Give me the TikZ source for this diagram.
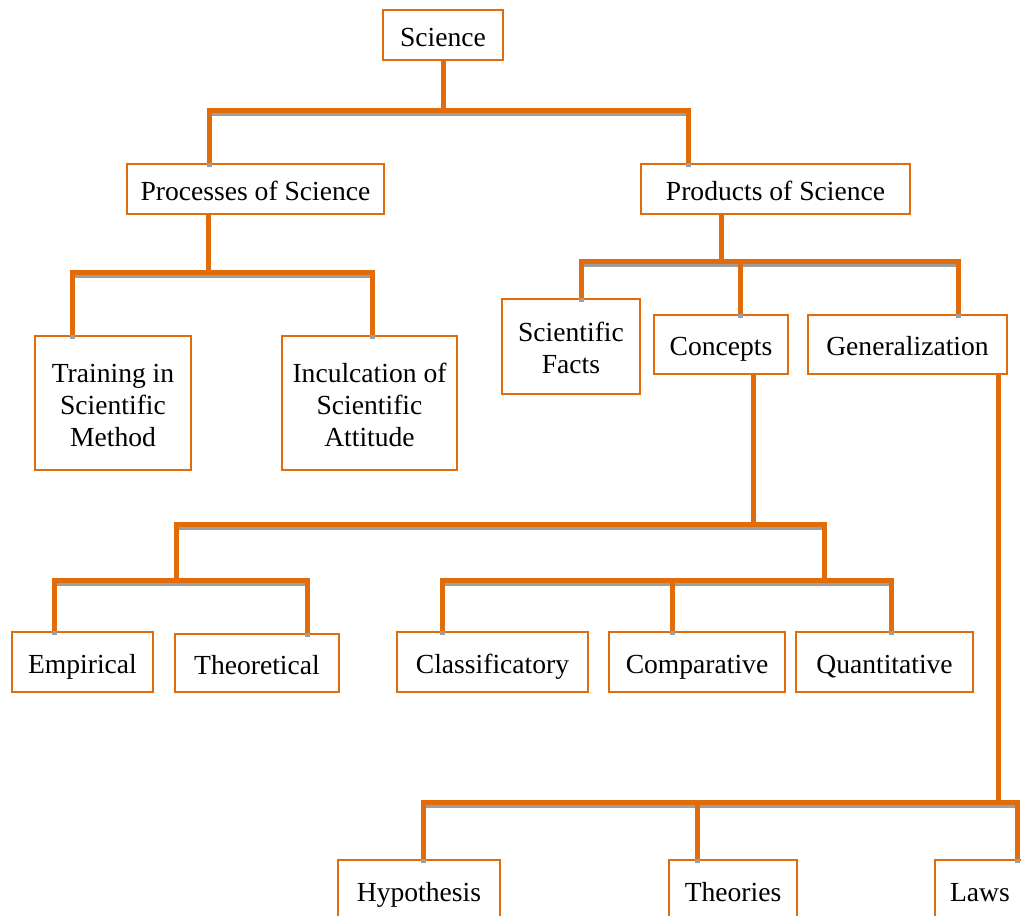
\documentclass[tikz,border=0pt]{standalone}
\usepackage{fontspec}
\setmainfont{Liberation Serif}
\definecolor{boxorange}{RGB}{227,108,10}
\definecolor{shadowgray}{RGB}{158,158,158}
\tikzset{
  box/.style={draw=boxorange, line width=0.04cm, fill=white, inner sep=0pt,
    font=\fontsize{15.7}{18.1}\selectfont},
  link/.style={draw=boxorange, line width=0.1cm},
  shade/.style={draw=shadowgray, line width=0.1cm}
}
\newcommand{\lift}[1]{\raisebox{-0.1cm}[\height][\depth]{\begin{tabular}{@{}c@{}}#1\end{tabular}}}
\newcommand{\stem}[2]{%
  \draw[shade] ([yshift=-0.07cm]#1) -- ([yshift=-0.07cm]#2);
  \draw[link] (#1) -- (#2);}
\newcommand{\bus}[4]{%
  \draw[shade] ([yshift=-0.07cm]#1) -- ([yshift=-0.07cm]#2) -- ([yshift=-0.07cm]#3) -- ([yshift=-0.07cm]#4);
  \draw[link] (#1) -- (#2) -- (#3) -- (#4);}
\begin{document}
\begin{tikzpicture}[x=0.02cm, y=-0.02cm]
  \useasboundingbox (0,0) rectangle (1021,916);
  \clip (0,0) rectangle (1021,916);
  \node[box, minimum width=2.4cm, minimum height=1cm] (sci) at (443,35) {\lift{Science}};
  \node[box, minimum width=5.14cm, minimum height=1cm] (proc) at (255.5,189) {\lift{Processes of Science}};
  \node[box, minimum width=5.38cm, minimum height=1cm] (prod) at (775.5,189) {\lift{Products of Science}};
  \node[box, minimum width=3.12cm, minimum height=2.68cm] (train) at (113,403) {\lift{Training in\\Scientific\\Method}};
  \node[box, minimum width=3.5cm, minimum height=2.68cm] (incul) at (369.5,403) {\lift{Inculcation of\\Scientific\\Attitude}};
  \node[box, minimum width=2.76cm, minimum height=1.9cm] (facts) at (571,346.5) {\lift{Scientific\\Facts}};
  \node[box, minimum width=2.68cm, minimum height=1.18cm] (conc) at (721,344.5) {\lift{Concepts}};
  \node[box, minimum width=3.98cm, minimum height=1.18cm] (gen) at (907.5,344.5) {\lift{Generalization}};
  \node[box, minimum width=2.82cm, minimum height=1.2cm] (emp) at (82.5,662) {\lift{Empirical}};
  \node[box, minimum width=3.28cm, minimum height=1.16cm] (theo) at (257,663) {\lift{Theoretical}};
  \node[box, minimum width=3.82cm, minimum height=1.2cm] (class) at (492.5,662) {\lift{Classificatory}};
  \node[box, minimum width=3.52cm, minimum height=1.2cm] (comp) at (697,662) {\lift{Comparative}};
  \node[box, minimum width=3.54cm, minimum height=1.2cm] (quant) at (884.5,662) {\lift{Quantitative}};
  \node[box, minimum width=3.24cm, minimum height=1.2cm] (hyp) at (419,890) {\lift{Hypothesis}};
  \node[box, minimum width=2.56cm, minimum height=1.2cm] (theor) at (733,890) {\lift{Theories}};
  \node[box, minimum width=1.8cm, minimum height=1.2cm] (laws) at (980,890) {\lift{Laws}};

  \coordinate (b1l) at (209,110);
  \coordinate (b1r) at (688,110);
  \coordinate (b2) at (208,272);
  \coordinate (b2l) at (72,272);
  \coordinate (b2r) at (372,272);
  \coordinate (b3) at (721,261);
  \coordinate (b3l) at (581,261);
  \coordinate (b3m) at (740,261);
  \coordinate (b3r) at (958,261);
  \coordinate (b4) at (753,524);
  \coordinate (b4l) at (176,524);
  \coordinate (b4r) at (824,524);
  \coordinate (b5l) at (54,580);
  \coordinate (b5r) at (307,580);
  \coordinate (b6l) at (442,580);
  \coordinate (b6m) at (672,580);
  \coordinate (b6r) at (891,580);
  \coordinate (b7) at (998,802);
  \coordinate (b7l) at (423,802);
  \coordinate (b7m) at (697,802);
  \coordinate (b7r) at (1017,802);

  \coordinate (b1) at (sci.south |- b1l);
  \coordinate (proc-in) at (b1l |- proc.north);
  \coordinate (prod-in) at (b1r |- prod.north);
  \coordinate (proc-out) at (proc.south -| b2);
  \coordinate (train-in) at (b2l |- train.north);
  \coordinate (incul-in) at (b2r |- incul.north);
  \coordinate (prod-out) at (prod.south -| b3);
  \coordinate (facts-in) at (b3l |- facts.north);
  \coordinate (conc-in) at (b3m |- conc.north);
  \coordinate (gen-in) at (b3r |- gen.north);
  \coordinate (conc-out) at (conc.south -| b4);
  \coordinate (b5) at (b4l |- b5l);
  \coordinate (b6) at (b4r |- b6l);
  \coordinate (emp-in) at (b5l |- emp.north);
  \coordinate (theo-in) at (b5r |- theo.north);
  \coordinate (class-in) at (b6l |- class.north);
  \coordinate (comp-in) at (b6m |- comp.north);
  \coordinate (quant-in) at (b6r |- quant.north);
  \coordinate (gen-out) at (gen.south -| b7);
  \coordinate (hyp-in) at (b7l |- hyp.north);
  \coordinate (theor-in) at (b7m |- theor.north);
  \coordinate (laws-in) at (b7r |- laws.north);

  \stem{sci.south}{b1}
  \bus{proc-in}{b1l}{b1r}{prod-in}
  \stem{proc-out}{b2}
  \bus{train-in}{b2l}{b2r}{incul-in}
  \stem{prod-out}{b3}
  \bus{facts-in}{b3l}{b3r}{gen-in}
  \stem{b3m}{conc-in}
  \stem{conc-out}{b4}
  \bus{b5}{b4l}{b4r}{b6}
  \bus{emp-in}{b5l}{b5r}{theo-in}
  \bus{class-in}{b6l}{b6r}{quant-in}
  \stem{b6m}{comp-in}
  \stem{gen-out}{b7}
  \bus{hyp-in}{b7l}{b7r}{laws-in}
  \stem{b7m}{theor-in}
\end{tikzpicture}
\end{document}
